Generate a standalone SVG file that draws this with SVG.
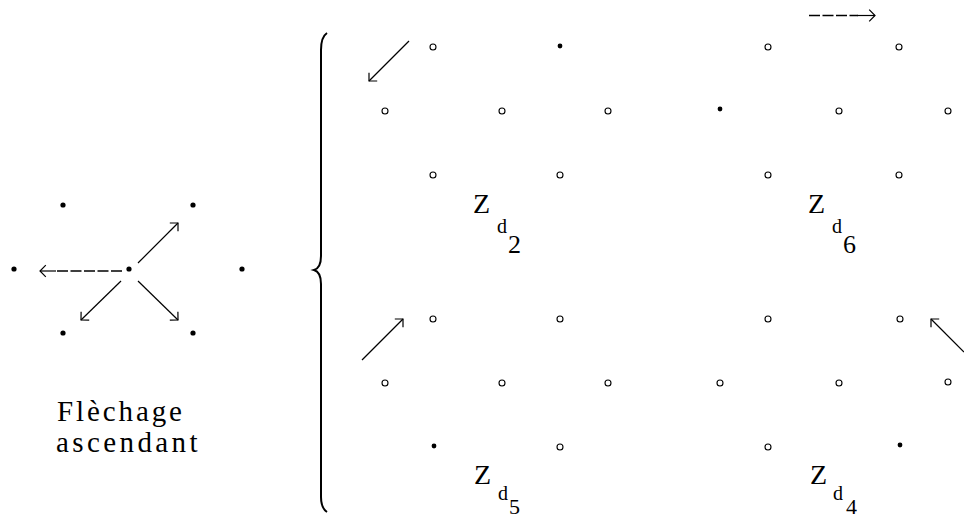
<svg xmlns="http://www.w3.org/2000/svg" width="964" height="520" viewBox="0 0 964 520">
<style>
.f{fill:#000}
.o{fill:#fff;stroke:#000;stroke-width:1.1}
.a{fill:none;stroke:#000;stroke-width:1.2;marker-end:url(#ah)}
.d{fill:none;stroke:#000;stroke-width:1.6;stroke-dasharray:11 2.5}
.t{font-family:"Liberation Serif","Times New Roman",serif;fill:#000}
</style>
<defs>
<marker id="ah" markerUnits="userSpaceOnUse" orient="auto" markerWidth="20" markerHeight="20" refX="0" refY="0" viewBox="-10 -10 20 20" overflow="visible">
<path d="M-5.8,-5.8 L0,0 L-5.8,5.8" fill="none" stroke="#000" stroke-width="1.2"/>
</marker>
</defs>
<rect width="964" height="520" fill="#fff"/>

<g id="left-figure">
<g id="n-l1"><circle class="f" cx="63" cy="205" r="2.6"/></g>
<g id="n-l2"><circle class="f" cx="193" cy="205" r="2.6"/></g>
<g id="n-l3"><circle class="f" cx="14" cy="269" r="2.6"/></g>
<g id="n-l4"><circle class="f" cx="129" cy="269" r="2.6"/></g>
<g id="n-l5"><circle class="f" cx="242" cy="269" r="2.6"/></g>
<g id="n-l6"><circle class="f" cx="63" cy="333" r="2.6"/></g>
<g id="n-l7"><circle class="f" cx="193" cy="333" r="2.6"/></g>
<g id="label-left">
<text class="t" x="57" y="421" font-size="29" letter-spacing="2.9" font-family="'Liberation Serif', serif">Flèchage</text>
<text class="t" x="56" y="452" font-size="29" letter-spacing="3.4" font-family="'Liberation Serif', serif">ascendant</text>
</g>
</g>

<g id="brace">
<path d="M327,33 Q321,37 321,50 L321,256 Q321,268 314,270 Q321,272 321,284 L321,497 Q321,508 327,512" fill="none" stroke="#000" stroke-width="2"/>
</g>

<g id="top-block">
<g id="n-t1"><circle class="o" cx="433" cy="47" r="3"/></g>
<g id="n-t2"><circle class="f" cx="560" cy="46" r="2.4"/></g>
<g id="n-t3"><circle class="o" cx="768" cy="47" r="3"/></g>
<g id="n-t4"><circle class="o" cx="899" cy="47" r="3"/></g>
<g id="n-t5"><circle class="o" cx="385" cy="111" r="3"/></g>
<g id="n-t6"><circle class="o" cx="502" cy="111" r="3"/></g>
<g id="n-t7"><circle class="o" cx="608" cy="111" r="3"/></g>
<g id="n-t8"><circle class="f" cx="720" cy="109" r="2.4"/></g>
<g id="n-t9"><circle class="o" cx="839" cy="111" r="3"/></g>
<g id="n-t10"><circle class="o" cx="948" cy="111" r="3"/></g>
<g id="n-t11"><circle class="o" cx="433" cy="175" r="3"/></g>
<g id="n-t12"><circle class="o" cx="560" cy="175" r="3"/></g>
<g id="n-t13"><circle class="o" cx="768" cy="175" r="3"/></g>
<g id="n-t14"><circle class="o" cx="899" cy="175" r="3"/></g>
<g id="label-zd2">
<text class="t" x="473" y="213" font-size="28">Z</text>
<text class="t" x="497" y="233" font-size="20">d</text>
<text class="t" x="508" y="253" font-size="26">2</text>
</g>
<g id="label-zd6">
<text class="t" x="808" y="213" font-size="28">Z</text>
<text class="t" x="832" y="233" font-size="20">d</text>
<text class="t" x="843" y="253" font-size="26">6</text>
</g>
</g>

<g id="bottom-block">
<g id="n-b1"><circle class="o" cx="433" cy="319" r="3"/></g>
<g id="n-b2"><circle class="o" cx="560" cy="319" r="3"/></g>
<g id="n-b3"><circle class="o" cx="768" cy="319" r="3"/></g>
<g id="n-b4"><circle class="o" cx="900" cy="319" r="3"/></g>
<g id="n-b5"><circle class="o" cx="385" cy="383" r="3"/></g>
<g id="n-b6"><circle class="o" cx="502" cy="383" r="3"/></g>
<g id="n-b7"><circle class="o" cx="608" cy="383" r="3"/></g>
<g id="n-b8"><circle class="o" cx="720" cy="383" r="3"/></g>
<g id="n-b9"><circle class="o" cx="839" cy="383" r="3"/></g>
<g id="n-b10"><circle class="o" cx="948" cy="382" r="3"/></g>
<g id="n-b11"><circle class="f" cx="434" cy="446" r="2.4"/></g>
<g id="n-b12"><circle class="o" cx="560" cy="447" r="3"/></g>
<g id="n-b13"><circle class="o" cx="768" cy="447" r="3"/></g>
<g id="n-b14"><circle class="f" cx="900" cy="445" r="2.4"/></g>
<g id="label-zd5">
<text class="t" x="474" y="484" font-size="28">Z</text>
<text class="t" x="498" y="500" font-size="20">d</text>
<text class="t" x="509" y="514" font-size="22">5</text>
</g>
<g id="label-zd4">
<text class="t" x="810" y="484" font-size="28">Z</text>
<text class="t" x="833" y="500" font-size="20">d</text>
<text class="t" x="846" y="514" font-size="22">4</text>
</g>
</g>

<g id="connectors">
<line class="a" x1="138" y1="263" x2="178" y2="223"/>
<line class="a" x1="121" y1="281" x2="81" y2="320"/>
<line class="a" x1="138" y1="281" x2="178" y2="320"/>
<line class="d" x1="122" y1="271" x2="55" y2="271"/>
<line class="a" x1="56" y1="271" x2="40" y2="271" stroke="#555"/>
<line class="a" x1="409" y1="41" x2="369" y2="81"/>
<line class="d" x1="809" y1="15.5" x2="858" y2="15.5"/>
<line class="a" x1="857" y1="15.5" x2="875" y2="15.5" stroke="#555"/>
<line class="a" x1="362" y1="360" x2="403" y2="319"/>
<line class="a" x1="964" y1="352" x2="931" y2="319"/>
</g>
</svg>
